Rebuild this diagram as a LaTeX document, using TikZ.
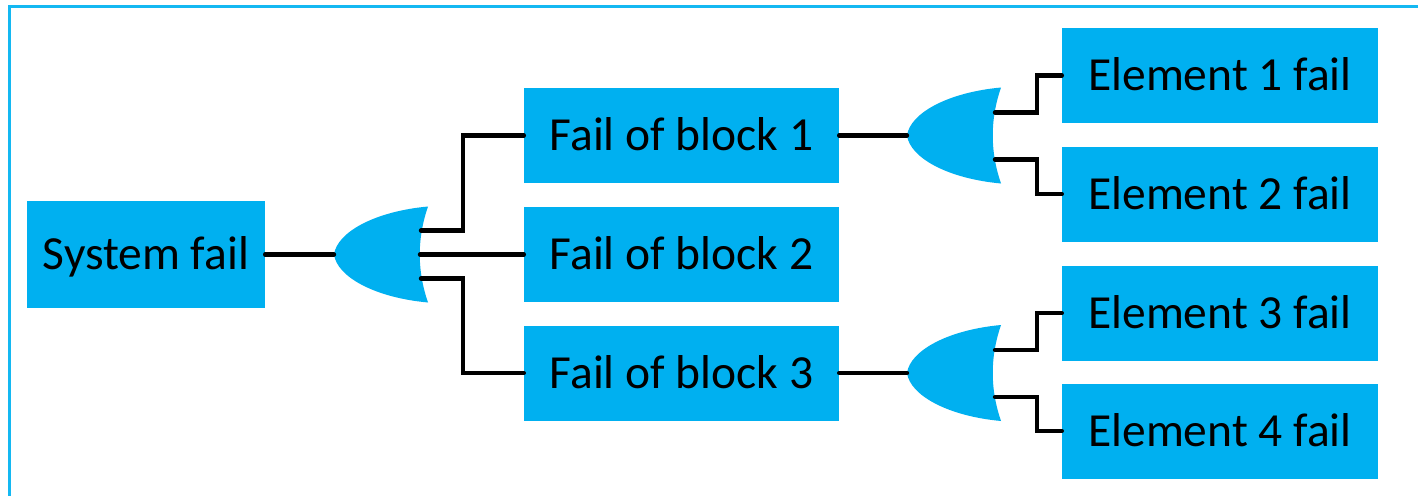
\documentclass[tikz,border=0pt]{standalone}
\usepackage{fontspec}
\setmainfont{Carlito}

\definecolor{boxblue}{HTML}{00B0F0}
\definecolor{frameblue}{HTML}{14B8F2}

\tikzset{
  box/.style={fill=boxblue, inner sep=0pt, text height=30.5pt, text depth=0pt,
    font=\fontsize{47.5}{57}\selectfont, align=center},
  blockbox/.style={box, minimum width=315pt, minimum height=95pt},
  elembox/.style={box, minimum width=316pt, minimum height=95pt},
  wire/.style={line width=4.4pt, line cap=round, line join=miter},
  orgate/.pic={
    \fill[boxblue] (0,0) .. controls (3,-22) and (40,-43) .. (94,-48)
      .. controls (83,-16) and (83,16) .. (94,48)
      .. controls (40,43) and (3,22) .. (0,0) -- cycle;
    \coordinate (-in) at (0,0);
    \coordinate (-o1) at (87,-24);
    \coordinate (-o2) at (86,0);
    \coordinate (-o3) at (87,24);
    \coordinate (-u1) at (88,-23);
    \coordinate (-u2) at (88,24);
  }
}

\begin{document}
\begin{tikzpicture}[x=1pt, y=-1pt]
  \clip (0,0) rectangle (1418,495);
  \fill[white] (0,0) rectangle (1418,495);

  % outer frame (only its top and left edges fall inside the page)
  \draw[frameblue, line width=2.6pt] (9.5,1000) -- (9.5,6.5) -- (2000,6.5);

  % boxes
  \node[box, minimum width=238pt, minimum height=107pt] (sys) at (146,254.5) {System fail};
  \node[blockbox] (b1) at (681.5,135.5) {Fail of block 1};
  \node[blockbox] (b2) at (681.5,254.5) {Fail of block 2};
  \node[blockbox] (b3) at (681.5,373) {Fail of block 3};
  \node[elembox] (e1) at (1220,75.5) {Element 1 fail};
  \node[elembox] (e2) at (1220,194) {Element 2 fail};
  \node[elembox] (e3) at (1220,313) {Element 3 fail};
  \node[elembox] (e4) at (1220,431) {Element 4 fail};

  % OR gates
  \pic (g1) at (334,254.5) {orgate};
  \pic (g2) at (907,135.5) {orgate};
  \pic (g3) at (907,373) {orgate};

  % connectors
  \draw[wire] (sys.east) -- (g1-in);
  \draw[wire] (g1-o1) -- ++(42,0) |- (b1.west);
  \draw[wire] (g1-o2) -- (b2.west);
  \draw[wire] (g1-o3) -- ++(42,0) |- (b3.west);

  \draw[wire] (b1.east) -- (g2-in);
  \draw[wire] (g2-u1) -- ++(42,0) |- (e1.west);
  \draw[wire] (g2-u2) -- ++(42,0) |- (e2.west);

  \draw[wire] (b3.east) -- (g3-in);
  \draw[wire] (g3-u1) -- ++(42,0) |- (e3.west);
  \draw[wire] (g3-u2) -- ++(42,0) |- (e4.west);
\end{tikzpicture}
\end{document}
